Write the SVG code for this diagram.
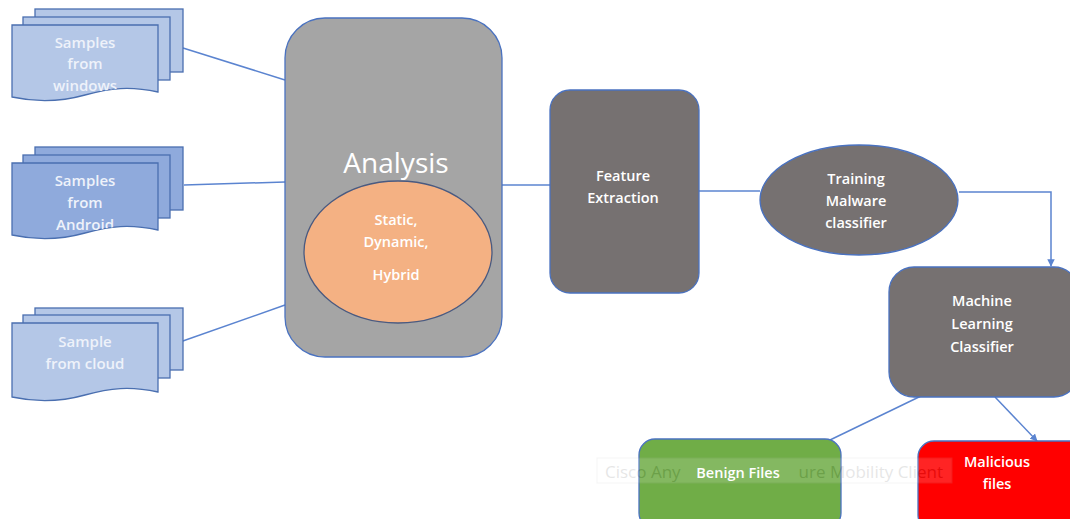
<svg xmlns="http://www.w3.org/2000/svg" width="1070" height="519" viewBox="0 0 1070 519">
<style>
.t{font-family:"Open Sans","Noto Sans",sans-serif;fill:#fff;text-anchor:middle}
.s{font-size:14.5px;font-weight:600}
.d{font-size:15px;font-weight:600}
.doc{stroke:#4a6fb0;stroke-width:1.3}
.w{fill:#b4c7e7}
.a{fill:#8faadc}
.ln{stroke:#5b84d0;stroke-width:1.5;fill:none}
.box{stroke:#4a72c0;stroke-width:1.3}
.pale{fill:#eef2fa}
.wm{font-family:"Open Sans","Noto Sans",sans-serif;font-size:17px;fill:#555}
</style>
<defs>
<marker id="ah" viewBox="0 0 10 10" refX="9" refY="5" markerWidth="5" markerHeight="5" orient="auto">
<path d="M0,0 L10,5 L0,10 z" fill="#5b84d0"/>
</marker>
<clipPath id="c1"><path d="M12,25 H158 V92 C130,86 110,88 85,95 C60,102 35,102 12,97 Z"/></clipPath>
<clipPath id="c2"><path d="M12,163 H158 V230 C130,224 110,226 85,233 C60,240 35,240 12,235 Z"/></clipPath>
</defs>

<g id="connectors">
<line class="ln" x1="183" y1="48" x2="285" y2="80"/>
<line class="ln" x1="184" y1="185" x2="285" y2="182"/>
<line class="ln" x1="180" y1="342" x2="285" y2="305"/>
<line class="ln" x1="502" y1="185" x2="551" y2="185"/>
<line class="ln" x1="699" y1="191" x2="760" y2="191"/>
<polyline class="ln" points="959,192 1051,192 1051,266" marker-end="url(#ah)"/>
<line class="ln" x1="921" y1="396" x2="830" y2="440"/>
<line class="ln" x1="995" y1="397" x2="1037" y2="441" marker-end="url(#ah)"/>
</g>

<g id="samples-windows">
<rect class="doc w" x="35" y="9" width="148" height="63"/>
<rect class="doc w" x="23" y="17" width="147" height="63"/>
<path class="doc w" d="M12,25 H158 V92 C130,86 110,88 85,95 C60,102 35,102 12,97 Z"/>
<g clip-path="url(#c1)">
<text class="t d pale" x="85" y="48">Samples</text>
<text class="t d pale" x="85" y="69">from</text>
<text class="t d pale" x="85" y="91">windows</text>
</g>
</g>

<g id="samples-android">
<rect class="doc a" x="35" y="147" width="148" height="63"/>
<rect class="doc a" x="23" y="155" width="147" height="63"/>
<path class="doc a" d="M12,163 H158 V230 C130,224 110,226 85,233 C60,240 35,240 12,235 Z"/>
<g clip-path="url(#c2)">
<text class="t d pale" x="85" y="186">Samples</text>
<text class="t d pale" x="85" y="208">from</text>
<text class="t d pale" x="85" y="230">Android</text>
</g>
</g>

<g id="samples-cloud">
<rect class="doc w" x="35" y="308" width="148" height="62"/>
<rect class="doc w" x="23" y="315" width="147" height="63"/>
<path class="doc w" d="M12,323 H158 V392 C130,386 110,388 85,395 C60,402 35,402 12,397 Z"/>
<text class="t d pale" x="85" y="347">Sample</text>
<text class="t d pale" x="85" y="369">from cloud</text>
</g>

<g id="analysis">
<rect class="box" x="285" y="18" width="217" height="339" rx="40" fill="#a5a5a5"/>
<text class="t" x="396" y="173" font-size="28">Analysis</text>
<ellipse cx="398" cy="252" rx="94" ry="71" fill="#f4b183" stroke="#4a5a80" stroke-width="1.3"/>
<text class="t s" x="396" y="225">Static,</text>
<text class="t s" x="396" y="247">Dynamic,</text>
<text class="t s" x="396" y="280">Hybrid</text>
</g>

<g id="feature-extraction">
<rect class="box" x="550" y="90" width="149" height="203" rx="20" fill="#767171"/>
<text class="t s" x="623" y="181">Feature</text>
<text class="t s" x="623" y="203">Extraction</text>
</g>

<g id="training">
<ellipse cx="859" cy="200" rx="99" ry="55" fill="#767171" stroke="#4a72c0" stroke-width="1.3"/>
<text class="t s" x="856" y="184">Training</text>
<text class="t s" x="856" y="206">Malware</text>
<text class="t s" x="856" y="228">classifier</text>
</g>

<g id="ml-classifier">
<rect class="box" x="889" y="267" width="190" height="130" rx="25" fill="#767171"/>
<text class="t s" x="982" y="306">Machine</text>
<text class="t s" x="982" y="329">Learning</text>
<text class="t s" x="982" y="352">Classifier</text>
</g>

<g id="benign">
<rect class="box" x="639" y="439" width="202" height="90" rx="16" fill="#70ad47"/>
</g>

<g id="malicious">
<rect class="box" x="918" y="441" width="170" height="90" rx="16" fill="#ff0000"/>
<text class="t s" x="997" y="467">Malicious</text>
<text class="t s" x="997" y="489">files</text>
</g>

<g id="watermark" opacity="0.14">
<rect x="597" y="458" width="355" height="25" fill="#ffffff" stroke="#bbbbbb" stroke-width="1"/>
<text class="wm" x="605" y="478">Cisco Any</text>
<text class="wm" x="943" y="478" text-anchor="end">ure Mobility Client</text>
</g>

<text class="t s" x="738" y="478">Benign Files</text>
</svg>
